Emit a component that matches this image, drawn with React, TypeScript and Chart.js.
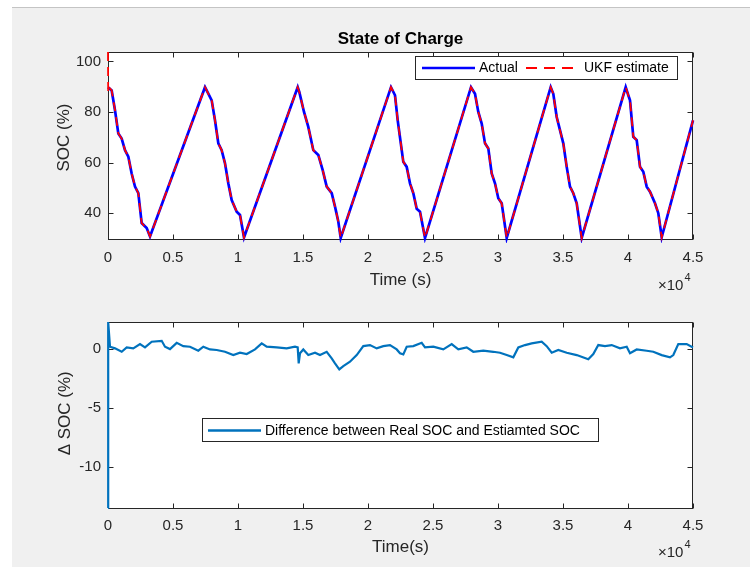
import React, { useEffect, useRef } from "react";
import { Chart, registerables } from "chart.js";

Chart.register(...registerables);

const FONT = "'Liberation Sans', Arial, Helvetica, sans-serif";
const AXIS = "#262626";

// ---- x axis (time, s) ----
const xMin = 0;
const xMax = 45000;
const xStep = 5000;
const xTickLabels = ["0", "0.5", "1", "1.5", "2", "2.5", "3", "3.5", "4", "4.5"];

// ---- top plot: SOC (%) ----
const socYMin = 29.8;
const socYMax = 103.7;
const socYStep = 20;

const socTime = [
  0, 283, 538, 794, 1051, 1308, 1564, 1820, 2077, 2333, 2590, 2975, 3231,
  7462, 7590, 7976, 8230, 8487, 8743, 9000, 9254, 9514, 9900, 10154, 10462,
  14592, 14715, 15077, 15407, 15792, 16177, 16515, 16823, 17208, 17462, 17715, 17900,
  21769, 22077, 22285, 22715, 22977, 23231, 23485, 23746, 24000, 24385,
  27923, 28231, 28485, 28746, 29000, 29254, 29515, 29769, 30023, 30285, 30669,
  34054, 34254, 34515, 34769, 35023, 35285, 35538, 35792, 36054, 36438,
  39823, 40023, 40154, 40408, 40669, 40923, 41177, 41438, 41692, 42077, 42331, 42592,
  45000,
];
const socActual = [
  89.8, 88.5, 80.7, 71.5, 69.5, 64.9, 62.3, 55.7, 50.5, 47.9, 36.1, 34.1, 30.8,
  89.8, 88.5, 84.6, 76.7, 67.6, 64.9, 59.7, 51.8, 45.2, 40.6, 39.3, 30.4,
  89.8, 87.9, 80.0, 74.1, 64.9, 63.0, 57.0, 50.5, 47.9, 42.6, 36.7, 30.2,
  89.8, 86.6, 76.7, 60.3, 58.3, 51.8, 47.9, 41.7, 40.6, 30.2,
  89.8, 87.2, 80.0, 75.4, 67.6, 65.6, 55.7, 51.8, 45.9, 43.9, 30.2,
  89.8, 87.2, 78.0, 72.8, 67.6, 58.3, 50.5, 47.9, 43.9, 30.2,
  89.8, 86.6, 84.6, 70.2, 68.9, 58.3, 56.4, 50.5, 48.5, 43.9, 40.0, 30.5,
  76.7,
];

// UKF estimate: initial transient, then it tracks the actual SOC
const ukfStartTime = [0, 15, 150];
const ukfStartSoc = [103.7, 87.6, 89.3];
const ukfTime = [...ukfStartTime, ...socTime.slice(1)];
const ukfSoc = [...ukfStartSoc, ...socActual.slice(1)];

// ---- bottom plot: difference ----
const diffYMin = -13.5;
const diffYMax = 2.3;
const diffYStep = 5;

const diffTime = [
  0, 15, 154, 538, 1054, 1438, 1946, 2462, 2846, 3362, 4131, 4385, 4769, 5285,
  5792, 6308, 6946, 7331, 7846, 8362, 9000, 9638, 10154, 10669, 11308, 11823,
  12208, 12977, 13746, 14385, 14592, 14669, 14769, 15023, 15408, 15923, 16308,
  16823, 17208, 17462, 17792, 18100, 18615, 19131, 19638, 20154, 20669, 21177,
  21692, 22208, 22461, 22715, 22977, 23485, 24131, 24385, 25023, 25792, 26438,
  26946, 27592, 28100, 28869, 29638, 30154, 30669, 31177, 31562, 32077, 32592,
  33362, 33746, 34131, 34638, 35285, 36054, 36946, 37331, 37715, 38231, 38746,
  39385, 39900, 40154, 40669, 41438, 41946, 42592, 43231, 43485, 43869, 44515,
  45000,
];
const diffSoc = [
  -13.5, 2.3, 0.2, 0.06, -0.23, 0.14, 0.06, 0.42, 0.14, 0.62, 0.7, 0.2, 0.0, 0.53,
  0.25, 0.2, -0.14, 0.2, -0.03, -0.08, -0.23, -0.51, -0.31, -0.42, -0.03, 0.48,
  0.2, 0.14, 0.06, 0.2, 0.14, -1.21, -0.36, -0.03, -0.51, -0.31, -0.51,
  -0.23, -0.79, -1.21, -1.72, -1.44, -1.07, -0.51, 0.25, 0.34, 0.06, 0.25,
  0.34, -0.03, -0.36, -0.45, 0.2, 0.25, 0.53, 0.14, 0.2, -0.03, 0.42,
  -0.03, 0.14, -0.23, -0.14, -0.23, -0.31, -0.51, -0.7, 0.14, 0.34, 0.48,
  0.62, 0.25, -0.31, -0.08, -0.31, -0.51, -0.87, -0.42, 0.34, 0.25, 0.34,
  0.06, 0.2, -0.36, -0.03, -0.14, -0.23, -0.51, -0.7, -0.51, 0.42, 0.42,
  0.14,
];

const toPoints = (xs: number[], ys: number[]) => xs.map((x, i) => ({ x, y: ys[i] }));

function drawFrame(chart: any, tick = 5) {
  const { ctx, chartArea: a } = chart;
  const xs = chart.scales.x;
  const ys = chart.scales.y;
  const L = Math.round(a.left) + 0.5;
  const R = Math.round(a.right) - 0.5;
  const T = Math.round(a.top) + 0.5;
  const B = Math.round(a.bottom) + 0.5;
  ctx.save();
  ctx.strokeStyle = AXIS;
  ctx.lineWidth = 1;
  ctx.strokeRect(L, T, R - L, B - T);
  ctx.beginPath();
  for (const t of xs.ticks) {
    const p = Math.round(xs.getPixelForValue(t.value)) + 0.5;
    ctx.moveTo(p, B);
    ctx.lineTo(p, B - tick);
    ctx.moveTo(p, T);
    ctx.lineTo(p, T + tick);
  }
  for (const t of ys.ticks) {
    const p = Math.round(ys.getPixelForValue(t.value)) + 0.5;
    ctx.moveTo(L, p);
    ctx.lineTo(L + tick, p);
    ctx.moveTo(R, p);
    ctx.lineTo(R - tick, p);
  }
  ctx.stroke();
  ctx.restore();
}

function fillArea(chart: any) {
  const { ctx, chartArea: a } = chart;
  ctx.save();
  ctx.fillStyle = "#ffffff";
  ctx.fillRect(a.left, a.top, a.right - a.left, a.bottom - a.top);
  ctx.restore();
}

function drawYTitle(ctx: CanvasRenderingContext2D, s: string, x: number, y: number) {
  ctx.save();
  ctx.translate(x, y);
  ctx.rotate(-Math.PI / 2);
  ctx.font = `17px ${FONT}`;
  ctx.fillStyle = AXIS;
  ctx.textAlign = "center";
  ctx.textBaseline = "middle";
  ctx.fillText(s, 0, 0);
  ctx.restore();
}

function drawExponent(ctx: CanvasRenderingContext2D, x: number, baseY: number, rise: number) {
  ctx.save();
  ctx.fillStyle = AXIS;
  ctx.textAlign = "left";
  ctx.textBaseline = "alphabetic";
  ctx.font = `15px ${FONT}`;
  ctx.fillText("\u00d710", x, baseY);
  const w = ctx.measureText("\u00d710").width;
  ctx.font = `11px ${FONT}`;
  ctx.fillText("4", x + w + 1, baseY - rise);
  ctx.restore();
}

function legendBox(ctx: CanvasRenderingContext2D, x0: number, y0: number, x1: number, y1: number) {
  ctx.save();
  ctx.fillStyle = "#ffffff";
  ctx.fillRect(x0, y0, x1 - x0, y1 - y0);
  ctx.strokeStyle = AXIS;
  ctx.lineWidth = 1;
  ctx.strokeRect(x0, y0, x1 - x0, y1 - y0);
  ctx.restore();
}

function legendItem(
  ctx: CanvasRenderingContext2D,
  x0: number,
  x1: number,
  y: number,
  color: string,
  width: number,
  dash: number[],
  label: string
) {
  ctx.save();
  ctx.strokeStyle = color;
  ctx.lineWidth = width;
  ctx.setLineDash(dash);
  ctx.beginPath();
  ctx.moveTo(x0, y);
  ctx.lineTo(x1, y);
  ctx.stroke();
  ctx.setLineDash([]);
  ctx.font = `14px ${FONT}`;
  ctx.fillStyle = "#000000";
  ctx.textAlign = "left";
  ctx.textBaseline = "middle";
  ctx.fillText(label, x1 + 4, y + 0.5);
  ctx.restore();
}

const topDecor = {
  id: "topDecor",
  beforeDraw(chart: any) {
    fillArea(chart);
  },
  beforeDatasetsDraw(chart: any) {
    drawFrame(chart, 5);
  },
  afterDatasetsDraw(chart: any) {
    const { ctx, chartArea: a } = chart;
    ctx.save();
    ctx.font = `bold 17px ${FONT}`;
    ctx.fillStyle = "#000000";
    ctx.textAlign = "center";
    ctx.textBaseline = "middle";
    ctx.fillText("State of Charge", (a.left + a.right) / 2, 39);
    ctx.restore();
    drawYTitle(ctx, "SOC (%)", 64.5, 137.5);
    drawExponent(ctx, 658, 289.5, 9);
    legendBox(ctx, 415.5, 56.5, 677.5, 79.5);
    legendItem(ctx, 422, 475, 68, "#0000ff", 2.5, [], "Actual");
    legendItem(ctx, 526, 580, 68, "#ff0000", 2, [11, 7], "UKF estimate");
  },
};

const bottomDecor = {
  id: "bottomDecor",
  beforeDraw(chart: any) {
    fillArea(chart);
  },
  beforeDatasetsDraw(chart: any) {
    drawFrame(chart, 5);
  },
  afterDatasetsDraw(chart: any) {
    const { ctx } = chart;
    drawYTitle(ctx, "\u0394 SOC (%)", 65.5, 113.3);
    drawExponent(ctx, 658, 256.5, 9);
    legendBox(ctx, 202.5, 118.5, 598.5, 141.5);
    legendItem(ctx, 208, 261, 130.5, "#0072BD", 2.5, [], "Difference between Real SOC and Estiamted SOC");
  },
};

function xScale(height: number, pad: number, title: string, titlePad: number) {
  return {
    type: "linear" as const,
    min: xMin,
    max: xMax,
    afterFit: (s: any) => {
      s.height = height;
    },
    grid: { display: false, drawTicks: false },
    border: { display: false },
    ticks: {
      stepSize: xStep,
      autoSkip: false,
      maxRotation: 0,
      includeBounds: false,
      padding: pad,
      color: AXIS,
      font: { family: FONT, size: 15 },
      callback: (_v: any, i: number) => xTickLabels[i],
    },
    title: {
      display: true,
      text: title,
      color: AXIS,
      font: { family: FONT, size: 17 },
      padding: { top: 0, bottom: titlePad },
    },
  };
}

function yScale(min: number, max: number, step: number) {
  return {
    type: "linear" as const,
    min,
    max,
    afterFit: (s: any) => {
      s.width = 108;
    },
    grid: { display: false, drawTicks: false },
    border: { display: false },
    ticks: {
      stepSize: step,
      includeBounds: false,
      padding: 7,
      color: AXIS,
      font: { family: FONT, size: 15 },
    },
  };
}

export default function App() {
  const topRef = useRef<HTMLCanvasElement>(null);
  const botRef = useRef<HTMLCanvasElement>(null);

  useEffect(() => {
    const common = {
      responsive: false,
      animation: false as const,
      devicePixelRatio: 1,
      events: [] as any[],
      plugins: {
        legend: { display: false },
        tooltip: { enabled: false },
        title: { display: false },
      },
    };

    const top = new Chart(topRef.current!, {
      type: "line",
      data: {
        datasets: [
          {
            label: "Actual",
            data: toPoints(socTime, socActual),
            borderColor: "#0000ff",
            borderWidth: 2.7,
            pointRadius: 0,
            tension: 0,
            order: 1,
            clip: 4,
          },
          {
            label: "UKF estimate",
            data: toPoints(ukfTime, ukfSoc),
            borderColor: "#ff0000",
            borderWidth: 1.8,
            borderDash: [9, 6],
            pointRadius: 0,
            tension: 0,
            order: 0,
            clip: 4,
          },
        ],
      },
      options: {
        ...common,
        layout: { padding: { left: 0, top: 52, right: 57, bottom: 0 } },
        scales: {
          x: xScale(61, 10, "Time (s)", 9.5),
          y: yScale(socYMin, socYMax, socYStep),
        },
      } as any,
      plugins: [topDecor],
    });

    const bottom = new Chart(botRef.current!, {
      type: "line",
      data: {
        datasets: [
          {
            label: "Difference between Real SOC and Estiamted SOC",
            data: toPoints(diffTime, diffSoc),
            borderColor: "#0072BD",
            borderWidth: 2.2,
            pointRadius: 0,
            tension: 0,
            clip: 4,
          },
        ],
      },
      options: {
        ...common,
        layout: { padding: { left: 0, top: 22, right: 57, bottom: 0 } },
        scales: {
          x: xScale(59, 9, "Time(s)", 9.8),
          y: yScale(diffYMin, diffYMax, diffYStep),
        },
      } as any,
      plugins: [bottomDecor],
    });

    return () => {
      top.destroy();
      bottom.destroy();
    };
  }, []);

  return (
    <div
      style={{
        position: "absolute",
        left: 0,
        top: 0,
        width: 750,
        height: 567,
        background: "#ffffff",
        overflow: "hidden",
      }}
    >
      <div
        style={{
          position: "absolute",
          left: 12,
          top: 7,
          width: 738,
          height: 560,
          background: "#f0f0f0",
          borderTop: "1px solid #c4c4c4",
          boxSizing: "border-box",
        }}
      />
      <canvas
        ref={topRef}
        width={750}
        height={300}
        style={{ position: "absolute", left: 0, top: 0, width: 750, height: 300 }}
      />
      <canvas
        ref={botRef}
        width={750}
        height={267}
        style={{ position: "absolute", left: 0, top: 300, width: 750, height: 267 }}
      />
    </div>
  );
}
